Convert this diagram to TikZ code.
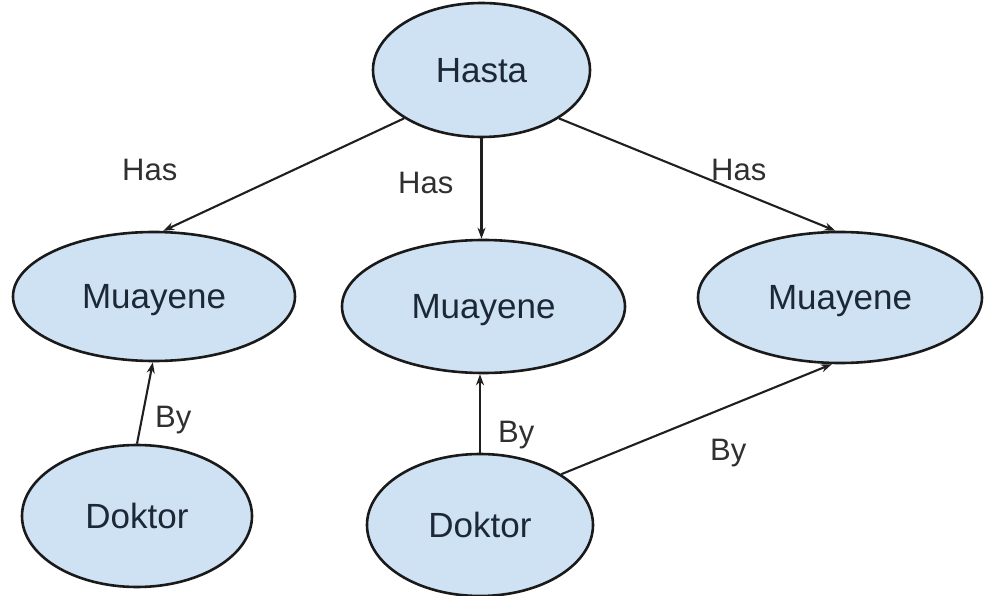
\documentclass[tikz,border=0pt]{standalone}
\usepackage{fontspec}
\setmainfont{Liberation Sans}
\usetikzlibrary{shapes.geometric,arrows.meta}
\definecolor{nodefill}{HTML}{CFE2F3}
\definecolor{nodeline}{HTML}{1A1A1A}
\definecolor{nodetext}{HTML}{1C2836}
\definecolor{labeltext}{HTML}{303030}
\begin{document}
\begin{tikzpicture}[x=1pt,y=-1pt,
  entity/.style={ellipse, draw=nodeline, line width=2.6pt, fill=nodefill,
    inner sep=0pt, text=nodetext, font=\fontsize{35}{40}\selectfont,
    text height=25pt, text depth=0pt},
  rel/.style={draw=black!88, line width=2.1pt, -{Stealth[length=11pt,width=8pt]}},
  lbl/.style={anchor=base west, inner sep=0pt, text=labeltext,
    font=\fontsize{31}{36}\selectfont}]
\useasboundingbox (0,0) rectangle (989,596);

% entities
\node[entity, minimum width=217pt, minimum height=134pt] (hasta) at (481.5,70) {Hasta};
\node[entity, minimum width=282pt, minimum height=129pt] (mul) at (154,296.5) {Muayene};
\node[entity, minimum width=283pt, minimum height=133pt] (mum) at (483.5,306.5) {Muayene};
\node[entity, minimum width=284pt, minimum height=131pt] (mur) at (840,297.5) {Muayene};
\node[entity, minimum width=230pt, minimum height=142pt] (dol) at (137,516) {Doktor};
\node[entity, minimum width=226pt, minimum height=142pt] (dom) at (480,525) {Doktor};

% relations
\draw[rel] (hasta.212.5) -- (mul.82);
\draw[rel] (hasta.south) -- (hasta.south |- mum.north);
\draw[rel] (hasta.328.6) -- (mur.94.4);
\draw[rel] (dol.90) -- (mul.269);
\draw[rel] (dom.north) -- (dom.north |- mum.south);
\draw[rel] (dom.32) -- (mur.263.3);

% relation labels
\node[lbl] (has1) at (122,181) {Has};
\node[lbl] (has2) at (398,194) {Has};
\node[lbl] (has3) at (711,181) {Has};
\node[lbl] (by1) at (155,428) {By};
\node[lbl] (by2) at (498,442) {By};
\node[lbl] (by3) at (710,460) {By};
\end{tikzpicture}
\end{document}
